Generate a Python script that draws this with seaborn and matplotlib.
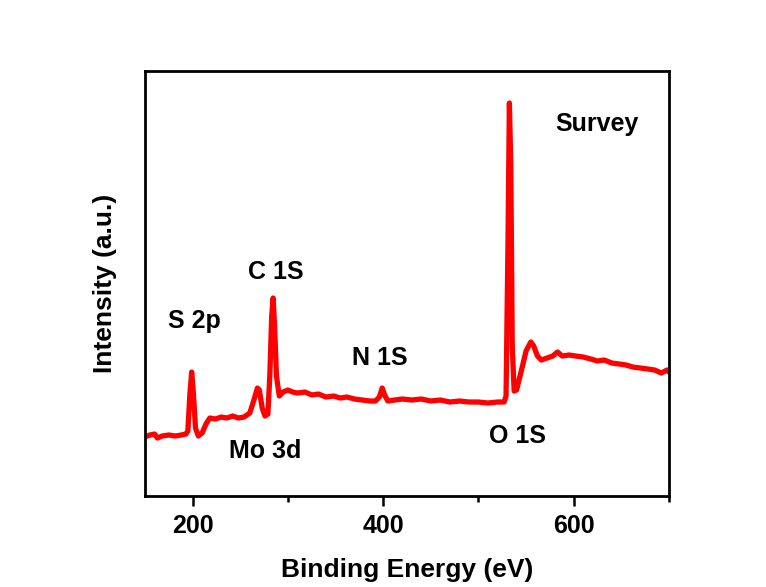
import pandas as pd
import seaborn as sns
import matplotlib.pyplot as plt
from matplotlib.ticker import MultipleLocator

# spectrum (binding energy in eV, intensity in arbitrary units)
energy = [150, 155, 160, 163, 168, 175, 182, 188, 193, 195, 197, 199, 201, 203, 206,
          210, 214, 218, 224, 230, 236, 242, 248, 254, 260, 264, 268, 270, 273, 276,
          279, 281, 283, 284.5, 286, 288, 291, 295, 300, 305, 310, 318, 325, 332, 340,
          348, 355, 362, 370, 378, 386, 392, 396, 399, 402, 405, 412, 420, 430, 440,
          450, 460, 470, 480, 490, 500, 510, 520, 527, 529, 531, 532.5, 534, 535.5,
          537.5, 540, 545, 550, 555, 558, 562, 566, 572, 578, 583, 588, 595, 602, 610,
          618, 625, 632, 640, 648, 655, 662, 670, 678, 685, 692, 698, 700]
intensity = [59, 61, 62, 58, 60, 61, 60, 61, 62, 65, 100, 124, 100, 68, 60,
             63, 72, 78, 77, 79, 78, 80, 78, 79, 83, 95, 108, 106, 88, 80,
             82, 120, 180, 198, 170, 120, 100, 104, 106, 104, 103, 104, 101, 102, 99,
             100, 98, 99, 97, 96, 95, 95, 99, 108, 100, 95, 96, 97, 96, 97,
             95, 96, 94, 95, 94, 94, 93, 94, 94, 100, 250, 393, 330, 150,
             105, 106, 125, 145, 154, 150, 140, 136, 138, 140, 144, 140, 141, 140, 139,
             137, 135, 136, 133, 132, 131, 129, 128, 127, 126, 123, 126, 124]

# peak labels
peak_names = ["Survey", "C 1S", "S 2p", "N 1S", "Mo 3d", "O 1S"]
peak_x = [624, 287, 202, 396, 276, 541]
peak_y = [372, 224, 175, 138, 45, 60]

df = pd.DataFrame({"energy": energy, "intensity": intensity})

sns.set_style("ticks")
plt.rcParams['font.family'] = ['Liberation Sans', 'DejaVu Sans']
plt.rcParams['font.weight'] = 'bold'
plt.rcParams['text.color'] = 'black'
plt.rcParams['axes.labelcolor'] = 'black'
plt.rcParams['xtick.color'] = 'black'

fig = plt.figure(figsize=(7.66, 5.87), dpi=100)
ax = fig.add_axes([0.1893, 0.155, 0.684, 0.724])

sns.lineplot(data=df, x="energy", y="intensity", color="#ff0000", linewidth=3.8, ax=ax)

for name, px, py in zip(peak_names, peak_x, peak_y):
    ax.text(px, py, name, ha="center", va="center", fontsize=18, fontweight="bold",
            color="black")

ax.set_xlim(150, 700)
ax.set_ylim(0, 425)
ax.xaxis.set_major_locator(MultipleLocator(200))
ax.xaxis.set_minor_locator(MultipleLocator(100))
ax.set_yticks([])
ax.tick_params(axis="x", which="major", direction="out", length=7, width=1.8,
               labelsize=18, pad=6, colors="black")
ax.tick_params(axis="x", which="minor", direction="out", length=4, width=1.8)
for lab in ax.get_xticklabels():
    lab.set_fontweight("bold")

for side in ["left", "right", "top", "bottom"]:
    ax.spines[side].set_visible(True)
    ax.spines[side].set_linewidth(2)
    ax.spines[side].set_color("black")

ax.set_xlabel("Binding Energy (eV)", fontsize=19, fontweight="bold", labelpad=14)
ax.set_ylabel("Intensity (a.u.)", fontsize=19, fontweight="bold", labelpad=20)

fig.savefig("out.png", dpi=100, facecolor="white")
